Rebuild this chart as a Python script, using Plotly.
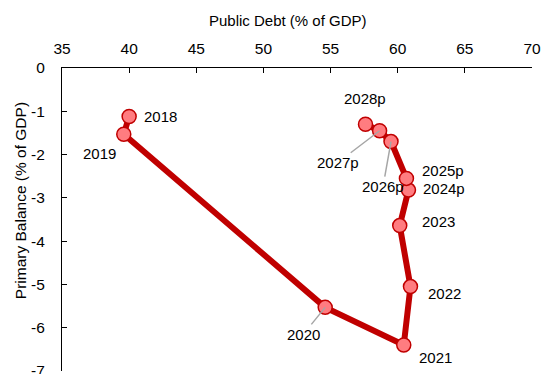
import plotly.graph_objects as go

# Public debt vs. primary balance, both in % of GDP
years = ["2018", "2019", "2020", "2021", "2022", "2023",
         "2024p", "2025p", "2026p", "2027p", "2028p"]
public_debt = [40.0, 39.6, 54.6, 60.45, 60.95, 60.15, 60.8, 60.65, 59.5, 58.65, 57.6]
primary_balance = [-1.12, -1.53, -5.53, -6.40, -5.05, -3.64, -2.82, -2.55, -1.70, -1.45, -1.30]

# label offsets from each point in pixels (dx right, dy down) and whether a leader line is drawn
label_dx = [31, -24, -22, 32, 34, 39, 36, 37, -8, -42, 0]
label_dy = [0, 19, 27, 12, 7, -4, -2, -8, 45, 32, -26]
leader = [False, False, True, False, False, False, False, False, True, True, False]

x_ticks = [35, 40, 45, 50, 55, 60, 65, 70]
y_ticks = [0, -1, -2, -3, -4, -5, -6, -7]

FONT = "Liberation Sans, Arial, sans-serif"
DARK_RED = "#C00000"
FILL_RED = "#FF7C80"
GREY = "#A6A6A6"
LABEL_SIZE = 15

fig = go.Figure()
fig.add_trace(go.Scatter(
    x=public_debt, y=primary_balance, mode="lines+markers",
    line=dict(color=DARK_RED, width=6),
    marker=dict(size=14, color=FILL_RED, line=dict(color=DARK_RED, width=1.5)),
    hoverinfo="skip", showlegend=False, cliponaxis=False,
))

annotations = []
for yr, xv, yv, dx, dy, ld in zip(years, public_debt, primary_balance, label_dx, label_dy, leader):
    if ld:
        annotations.append(dict(
            x=xv, y=yv, xref="x", yref="y", text=yr,
            showarrow=True, arrowhead=0, arrowwidth=1.5, arrowcolor=GREY,
            ax=dx, ay=dy, axref="pixel", ayref="pixel", standoff=0,
            font=dict(family=FONT, size=LABEL_SIZE, color="#000000"),
        ))
    else:
        annotations.append(dict(
            x=xv, y=yv, xref="x", yref="y", text=yr, showarrow=False,
            xanchor="center", yanchor="middle",
            xshift=dx, yshift=-dy,
            font=dict(family=FONT, size=LABEL_SIZE, color="#000000"),
        ))

annotations.append(dict(
    x=0.481, y=1.158, xref="paper", yref="paper", text="Public Debt (% of GDP)",
    xanchor="center", yanchor="middle",
    showarrow=False, font=dict(family=FONT, size=15, color="#000000"),
))
annotations.append(dict(
    x=-0.089, y=0.561, xref="paper", yref="paper", text="Primary Balance (% of GDP)",
    xanchor="center", yanchor="middle",
    showarrow=False, textangle=-90, font=dict(family=FONT, size=15.5, color="#000000"),
))

fig.update_layout(
    width=542, height=374,
    margin=dict(l=62, r=10, t=68, b=3, autoexpand=False),
    paper_bgcolor="white", plot_bgcolor="white",
    font=dict(family=FONT, size=15.5, color="#000000"),
    annotations=annotations,
    xaxis=dict(
        side="top", range=[35, 70], tickvals=x_ticks, ticktext=[str(v) for v in x_ticks],
        showgrid=False, zeroline=False, showline=True, linecolor="#000000", linewidth=1,
        ticks="inside", ticklen=5, tickcolor="#000000", ticklabelstandoff=7,
        ticklabeloverflow="allow", automargin=False,
    ),
    yaxis=dict(
        range=[-7, 0], tickvals=y_ticks, ticktext=[str(v) for v in y_ticks],
        showgrid=False, zeroline=False, showline=True, linecolor="#000000", linewidth=1,
        ticks="inside", ticklen=5, tickcolor="#000000", ticklabelstandoff=13,
        ticklabeloverflow="allow", automargin=False,
    ),
)

fig.write_html("out.html")
